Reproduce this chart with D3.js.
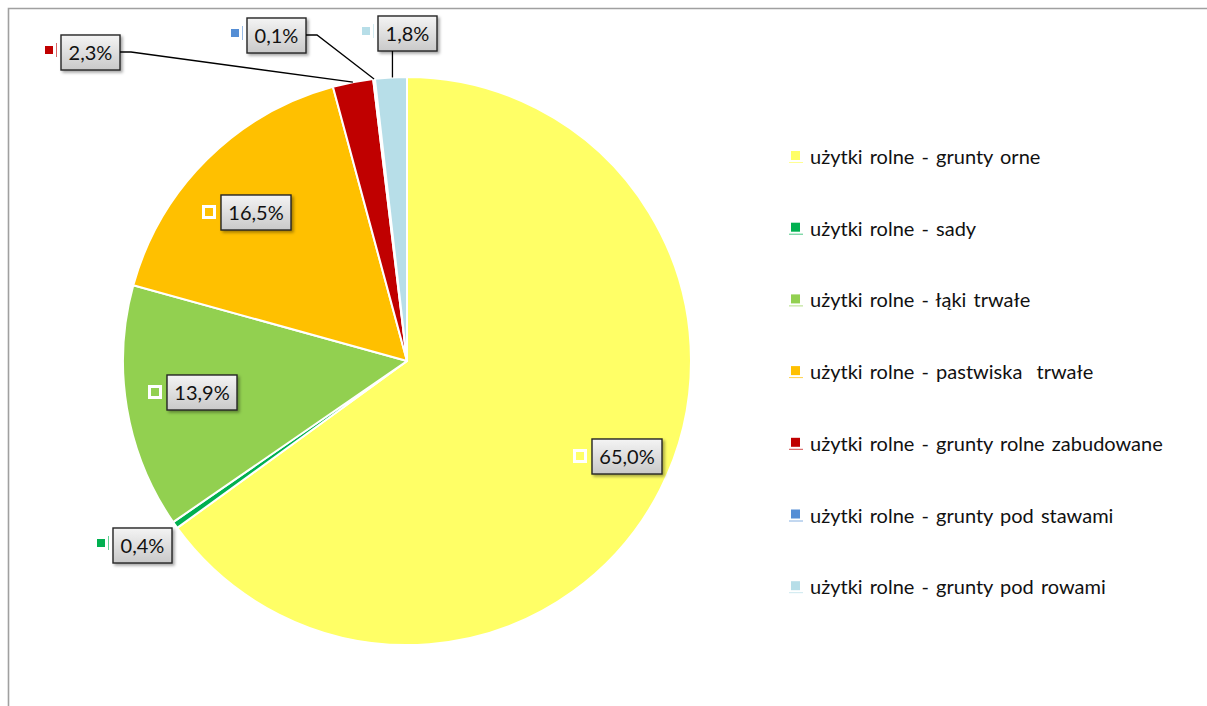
<!DOCTYPE html>
<html><head><meta charset="utf-8">
<script src="https://cdn.jsdelivr.net/npm/d3@7"></script>
<style>body{margin:0;background:#fff}svg{display:block}</style>
</head><body>
<svg id="c" width="1207" height="706"></svg>
<script>
// ---- data ----
const categories = [
  "użytki rolne - grunty orne",
  "użytki rolne - sady",
  "użytki rolne - łąki trwałe",
  "użytki rolne - pastwiska  trwałe",
  "użytki rolne - grunty rolne zabudowane",
  "użytki rolne - grunty pod stawami",
  "użytki rolne - grunty pod rowami"
];
const values = [65.0, 0.4, 13.9, 16.5, 2.3, 0.1, 1.8];
const labels = ["65,0%", "0,4%", "13,9%", "16,5%", "2,3%", "0,1%", "1,8%"];
const colors = ["#FFFF66", "#00B050", "#92D050", "#FFC000", "#C00000", "#558ED5", "#B7DEE8"];

// ---- layout ----
const W = 1207, H = 706;
const cx = 407, cy = 361, R = 284;
const font = "Lato, 'Open Sans', sans-serif";
const FS = 20;
// label box (left, top) positions
const boxPos = [[592, 439], [113, 528], [167, 375], [221, 195], [61, 35], [247, 18], [378, 16]];
const insideLabel = [true, false, true, true, false, false, false];
const leaderKind = [null, null, null, null, "elbowL", "elbowL", "vertical"];

const svg = d3.select("#c");
const defs = svg.append("defs");
const grad = defs.append("linearGradient").attr("id", "bg").attr("x1", 0).attr("y1", 0).attr("x2", 0).attr("y2", 1);
grad.append("stop").attr("offset", "0%").attr("stop-color", "#f4f4f4");
grad.append("stop").attr("offset", "100%").attr("stop-color", "#c9c9c9");
const flt = defs.append("filter").attr("id", "sh").attr("x", "-20%").attr("y", "-20%").attr("width", "150%").attr("height", "160%");
flt.append("feDropShadow").attr("dx", 2).attr("dy", 2).attr("stdDeviation", 1.6).attr("flood-color", "#000").attr("flood-opacity", 0.35);

// border
svg.append("path").attr("d", `M8.5,${H} L8.5,8.5 L${W},8.5`).attr("fill", "none").attr("stroke", "#a0a0a0").attr("stroke-width", 1.6);

const pie = d3.pie().sort(null).value(d => d)(values);
const arc = d3.arc().innerRadius(0).outerRadius(R);
const g = svg.append("g").attr("transform", `translate(${cx},${cy})`);
g.selectAll("path").data(pie).join("path")
  .attr("d", arc).attr("fill", (d, i) => colors[i])
  .attr("stroke", "#fff").attr("stroke-width", 2).attr("stroke-linejoin", "round");

// labels
const lab = svg.append("g");
function box(x, y, text, i, inside) {
  const t = lab.append("text").attr("font-family", font).attr("font-size", FS).text(text);
  const tw = t.node().getComputedTextLength();
  const bw = Math.round(tw + 15), bh = 35;
  t.remove();
  const grp = lab.append("g");
  grp.append("rect").attr("x", x).attr("y", y).attr("width", bw).attr("height", bh)
    .attr("fill", "url(#bg)").attr("stroke", "#262626").attr("stroke-width", 1.4).attr("filter", "url(#sh)");
  grp.append("text").attr("x", x + bw / 2).attr("y", y + bh / 2 + 7).attr("text-anchor", "middle")
    .attr("font-family", font).attr("font-size", FS).attr("fill", "#111").text(text);
  // legend key
  if (inside) {
    grp.append("rect").attr("x", x - 17.5).attr("y", y + 11.5).attr("width", 11).attr("height", 11)
      .attr("fill", colors[i]).attr("stroke", "#fff").attr("stroke-width", 3);
  } else {
    grp.append("rect").attr("x", x - 16).attr("y", y + 11).attr("width", 8).attr("height", 8).attr("fill", colors[i]);
    grp.append("line").attr("x1", x - 4.5).attr("x2", x - 4.5).attr("y1", y + 8).attr("y2", y + 22)
      .attr("stroke", colors[i]).attr("stroke-width", 1).attr("opacity", 0.6);
  }
  return bw;
}
pie.forEach((d, i) => {
  const [bx, by] = boxPos[i];
  const bw = box(bx, by, labels[i], i, insideLabel[i]);
  const mid = (d.startAngle + d.endAngle) / 2;
  const ex = cx + R * Math.sin(mid), ey = cy - R * Math.cos(mid);
  if (leaderKind[i] === "elbowL") {
    lab.append("path").attr("d", `M${bx + bw},${by + 17} L${bx + bw + 11},${by + 17} L${ex},${ey}`)
      .attr("fill", "none").attr("stroke", "#000").attr("stroke-width", 1.3);
  } else if (leaderKind[i] === "vertical") {
    lab.append("path").attr("d", `M${ex + 1.5},${by + 35} L${ex + 1.5},${ey}`)
      .attr("fill", "none").attr("stroke", "#000").attr("stroke-width", 1.3);
  }
});

// legend
const leg = svg.append("g");
const ly0 = 157, lstep = 71.7;
categories.forEach((c, i) => {
  const y = ly0 + i * lstep;
  leg.append("rect").attr("x", 791).attr("y", y - 6).attr("width", 9).attr("height", 9).attr("fill", colors[i]);
  leg.append("line").attr("x1", 789).attr("x2", 803).attr("y1", y + 5.5).attr("y2", y + 5.5)
    .attr("stroke", colors[i]).attr("stroke-width", 1).attr("opacity", 0.7);
  leg.append("text").attr("x", 810).attr("y", y + 7).attr("font-family", font).attr("font-size", FS)
    .attr("fill", "#111").attr("word-spacing", 2).attr("xml:space", "preserve").style("white-space", "pre").text(c);
});
</script>
</body></html>
